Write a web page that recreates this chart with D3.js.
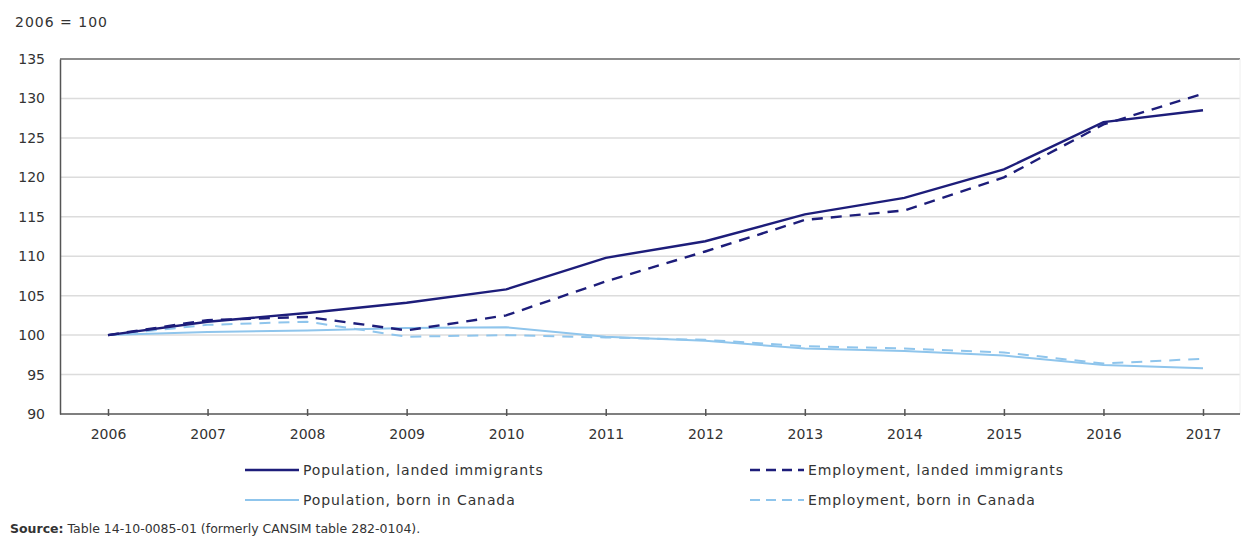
<!DOCTYPE html>
<html>
<head>
<meta charset="utf-8">
<script src="https://cdn.jsdelivr.net/npm/d3@7"></script>
<style>
  body { margin: 0; background: #fff; }
  text { font-family: "DejaVu Sans", Verdana, sans-serif; fill: #333; }
</style>
</head>
<body>
<div id="chart"></div>
<script>
var svgWidth = 1251;
var svgHeight = 552;

var margin = { top: 59, right: 11, bottom: 138, left: 60 };
var width = svgWidth - margin.left - margin.right;
var height = svgHeight - margin.top - margin.bottom;

// data, index 2006 = 100
var years = [2006, 2007, 2008, 2009, 2010, 2011, 2012, 2013, 2014, 2015, 2016, 2017];
var popImmigrants = [100, 101.7, 102.8, 104.1, 105.8, 109.8, 111.9, 115.3, 117.4, 121.0, 127.0, 128.5];
var empImmigrants = [100, 101.9, 102.3, 100.6, 102.5, 106.8, 110.6, 114.6, 115.8, 120.0, 126.7, 130.6];
var popCanada = [100, 100.4, 100.6, 100.9, 101.0, 99.8, 99.3, 98.3, 98.0, 97.4, 96.2, 95.8];
var empCanada = [100, 101.3, 101.7, 99.8, 100.0, 99.7, 99.4, 98.6, 98.3, 97.8, 96.4, 97.0];
var yTicks = [90, 95, 100, 105, 110, 115, 120, 125, 130, 135];

var navy = "#1d1d7a";
var light = "#8fc5ec";

var series = [
  { name: "Population, landed immigrants", values: popImmigrants, color: navy, dash: null, w: 2.4 },
  { name: "Employment, landed immigrants", values: empImmigrants, color: navy, dash: "11,8", w: 2.4 },
  { name: "Population, born in Canada", values: popCanada, color: light, dash: null, w: 2 },
  { name: "Employment, born in Canada", values: empCanada, color: light, dash: "11,8", w: 2 }
];

var svg = d3.select("#chart")
  .append("svg")
  .attr("width", svgWidth)
  .attr("height", svgHeight);

var chartGroup = svg.append("g")
  .attr("transform", `translate(${margin.left}, ${margin.top})`);

var xScale = d3.scalePoint()
  .domain(years)
  .range([48, 1143]);

var yScale = d3.scaleLinear()
  .domain([90, 135])
  .range([height, 0]);

// gridlines
chartGroup.selectAll(".grid")
  .data(yTicks.filter(d => d > 90 && d < 135))
  .enter()
  .append("line")
  .attr("x1", 0)
  .attr("x2", width)
  .attr("y1", d => yScale(d))
  .attr("y2", d => yScale(d))
  .attr("stroke", "#dcdcdc")
  .attr("stroke-width", 1.5);

// frame: top and faint right edge
chartGroup.append("line")
  .attr("x1", 0).attr("x2", width)
  .attr("y1", 0).attr("y2", 0)
  .attr("stroke", "#666").attr("stroke-width", 1.5);
chartGroup.append("line")
  .attr("x1", width).attr("x2", width)
  .attr("y1", 0).attr("y2", height)
  .attr("stroke", "#eee").attr("stroke-width", 1);

// y axis
var leftAxis = d3.axisLeft(yScale).tickValues(yTicks).tickSize(0).tickPadding(15);
var yAxis = chartGroup.append("g").call(leftAxis);
yAxis.select(".domain").attr("stroke", "#555").attr("stroke-width", 1.5);
yAxis.selectAll("text")
  .attr("font-size", "14px")
  .style("font-family", "DejaVu Sans, Verdana, sans-serif")
  .attr("fill", "#333");

// x axis
var bottomAxis = d3.axisBottom(xScale).tickSizeInner(-5).tickSizeOuter(0).tickPadding(15);
var xAxis = chartGroup.append("g")
  .attr("transform", `translate(0, ${height})`)
  .call(bottomAxis);
xAxis.select(".domain").attr("stroke", "#555").attr("stroke-width", 1.5)
  .attr("d", `M0,0H${width}`);
xAxis.selectAll(".tick line").attr("stroke", "#555").attr("stroke-width", 1.5)
  .attr("y1", 2);
xAxis.selectAll("text")
  .attr("font-size", "14px")
  .style("font-family", "DejaVu Sans, Verdana, sans-serif")
  .attr("fill", "#333");

// lines
var lineGen = d3.line()
  .x((d, i) => xScale(years[i]))
  .y(d => yScale(d));

var drawOrder = [series[2], series[3], series[1], series[0]];
chartGroup.selectAll(".series")
  .data(drawOrder)
  .enter()
  .append("path")
  .attr("d", d => lineGen(d.values))
  .attr("fill", "none")
  .attr("stroke", d => d.color)
  .attr("stroke-width", d => d.w)
  .attr("stroke-dasharray", d => d.dash);

// unit label
svg.append("text")
  .attr("x", 15)
  .attr("y", 27)
  .attr("font-size", "14px")
  .attr("letter-spacing", "1px")
  .text("2006 = 100");

// legend
var legendPos = [
  { x: 245, y: 470 },
  { x: 750, y: 470 },
  { x: 245, y: 500 },
  { x: 750, y: 500 }
];
var legend = svg.selectAll(".legend")
  .data(series)
  .enter()
  .append("g")
  .attr("transform", (d, i) => `translate(${legendPos[i].x}, ${legendPos[i].y})`);

legend.append("line")
  .attr("x1", 0).attr("x2", 54)
  .attr("y1", 0).attr("y2", 0)
  .attr("stroke", d => d.color)
  .attr("stroke-width", d => d.w)
  .attr("stroke-dasharray", d => d.dash ? "10,6" : null);

legend.append("text")
  .attr("x", 58)
  .attr("y", 5)
  .attr("font-size", "14px")
  .attr("letter-spacing", "0.9px")
  .text(d => d.name);

// source
var source = svg.append("text")
  .attr("x", 10)
  .attr("y", 533)
  .attr("font-size", "12.5px");
source.append("tspan").attr("font-weight", "bold").text("Source:");
source.append("tspan").text(" Table 14-10-0085-01 (formerly CANSIM table 282-0104).");
</script>
</body>
</html>
